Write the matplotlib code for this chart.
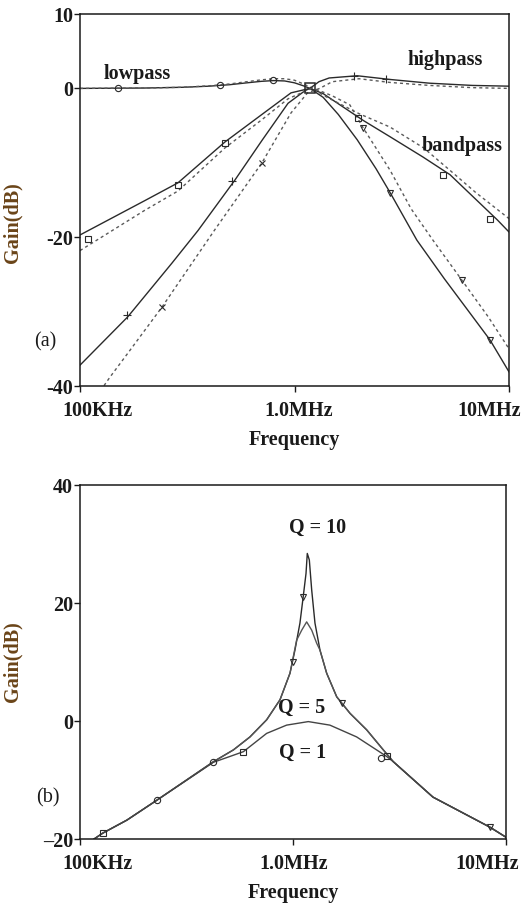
import numpy as np
import matplotlib
matplotlib.use('Agg')
import matplotlib.pyplot as plt
from matplotlib import rcParams
from matplotlib.ticker import NullLocator
from matplotlib.transforms import ScaledTranslation

rcParams['font.family'] = ['Liberation Serif', 'DejaVu Serif']
rcParams['font.weight'] = 'bold'
rcParams['axes.labelweight'] = 'bold'
rcParams['font.size'] = 14.5

#%% data, frequencies in MHz, gain in dB
# (a) lowpass / highpass / bandpass, solid = simulated, dashed = measured
lp_sim_f = [0.1, 0.2, 0.3, 0.4, 0.5, 0.6, 0.7, 0.8, 0.9, 1.0, 1.1, 1.18, 1.36, 1.6, 1.96, 2.4, 2.79, 3.72, 5.0, 6.5, 8.15, 10]
lp_sim_db = [0, 0.05, 0.15, 0.3, 0.5, 0.75, 0.95, 1.05, 1.0, 0.75, 0.35, 0, -1.2, -3.5, -6.9, -10.8, -14.0, -20.4, -25.6, -30.0, -33.8, -38.1]
lp_meas_f = [0.1, 0.2, 0.3, 0.4, 0.5, 0.6, 0.7, 0.8, 0.9, 1.0, 1.1, 1.2, 1.36, 1.5, 1.81, 2.09, 2.79, 3.5, 4.42, 6.04, 8.0, 10]
lp_meas_db = [0, 0.05, 0.15, 0.35, 0.6, 0.9, 1.15, 1.3, 1.3, 1.1, 0.6, 0.1, -0.5, -1.0, -2.2, -5.3, -11.0, -16.2, -20.4, -25.8, -30.7, -35.0]

hp_sim_f = [0.1, 0.167, 0.268, 0.355, 0.528, 0.705, 0.933, 1.12, 1.18, 1.3, 1.45, 1.96, 2.79, 4.26, 6.75, 10]
hp_sim_db = [-37.2, -30.7, -23.5, -19.1, -12.3, -7.0, -2.0, -0.3, 0, 0.9, 1.4, 1.7, 1.2, 0.7, 0.4, 0.3]
hp_meas_f = [0.12, 0.138, 0.167, 0.241, 0.425, 0.705, 0.963, 1.15, 1.31, 1.5, 2.0, 2.79, 4.26, 6.75, 10]
hp_meas_db = [-41.3, -38.8, -35.6, -29.4, -19.0, -10.0, -3.3, -0.6, 0, 0.9, 1.3, 0.8, 0.4, 0.1, 0]

bp_sim_f = [0.1, 0.2, 0.286, 0.474, 0.705, 0.963, 1.18, 1.36, 2.09, 2.79, 3.96, 5.31, 8.84, 10]
bp_sim_db = [-19.7, -15.1, -12.7, -7.2, -3.5, -0.6, 0, -0.7, -4.3, -6.5, -9.2, -11.6, -17.7, -19.3]
bp_meas_f = [0.1, 0.2, 0.286, 0.474, 0.705, 0.933, 1.2, 1.42, 2.0, 2.79, 4.0, 5.3, 7.0, 10]
bp_meas_db = [-21.8, -16.4, -13.8, -8.0, -4.2, -1.4, 0, -1.2, -3.4, -5.2, -8.0, -11.0, -14.0, -17.5]

# marker positions (a)
lp_mk_f = [0.15, 0.45, 0.79, 2.09, 2.79, 6.04, 8.15]
lp_mk_db = [0, 0.5, 1.1, -5.3, -14.0, -25.8, -33.8]
hp_mk_f = [0.166, 0.512, 1.9, 2.66]
hp_mk_db = [-30.5, -12.5, 1.6, 1.2]
hpx_mk_f = [0.241, 0.705]
hpx_mk_db = [-29.4, -10.0]
bp_mk_f = [0.109, 0.286, 0.474, 1.98, 4.92, 8.15]
bp_mk_db = [-20.2, -13.0, -7.4, -4.0, -11.6, -17.5]
f0_mk = 1.18

# (b) bandpass gain for different Q
q10_f = [0.1, 0.128, 0.166, 0.23, 0.423, 0.525, 0.628, 0.752, 0.869, 0.968, 1.021, 1.078, 1.117, 1.151, 1.167,
         1.193, 1.224, 1.268, 1.339, 1.439, 1.604, 1.852, 2.218, 2.655, 2.958, 4.54, 8.41, 10]
q10_db = [-21.6, -19.0, -16.8, -13.4, -6.9, -4.9, -2.7, 0.2, 3.6, 8.1, 12.0, 16.6, 21.1, 25.0, 28.4,
          27.3, 22.2, 16.6, 12.0, 8.1, 4.1, 1.3, -1.5, -4.9, -6.9, -12.9, -18.0, -19.7]
q5_f = [0.1, 0.128, 0.166, 0.23, 0.423, 0.525, 0.628, 0.752, 0.869, 0.968, 1.04, 1.099, 1.159,
        1.224, 1.291, 1.339, 1.439, 1.604, 1.852, 2.218, 2.655, 2.958, 4.54, 8.41, 10]
q5_db = [-21.6, -19.0, -16.8, -13.4, -6.9, -4.9, -2.7, 0.2, 3.6, 8.1, 13.7, 15.4, 16.8,
         15.4, 13.2, 12.0, 8.1, 4.1, 1.3, -1.5, -4.9, -6.9, -12.9, -18.0, -19.7]
q1_f = [0.1, 0.128, 0.166, 0.23, 0.423, 0.585, 0.752, 0.933, 1.18, 1.49, 1.99, 2.75, 2.958, 4.54, 8.41, 10]
q1_db = [-21.6, -19.0, -16.8, -13.4, -7.0, -5.2, -2.1, -0.7, -0.1, -0.7, -2.7, -6.0, -6.9, -12.9, -18.0, -19.7]

q10_mk_f = [1.0, 1.117, 1.69, 8.41]
q10_mk_db = [10.0, 21.1, 3.0, -18.0]
q5_mk_f = [0.23, 0.421, 2.6]
q5_mk_db = [-13.4, -7.0, -6.3]
q1_mk_f = [0.128, 0.585, 2.75]
q1_mk_db = [-19.0, -5.2, -6.0]

xticks = [0.1, 1.0, 10]
xticklabels = ['100KHz', '1.0MHz', '10MHz']

#%%
sim_kw = dict(color='#2a2a2a', lw=1.0)
meas_kw = dict(color='#5a5a5a', lw=1.0, ls=(0, (2.2, 2.2)))
mk_kw = dict(ls='none', mfc='none', mec='#2a2a2a', mew=0.8, ms=4.5)
txt_col = '#1a1a1a'
lab_col = '#6a4418'

fig = plt.figure(figsize=(5.29, 9.05), dpi=100)
ax1 = fig.add_axes([80/529, 1-386/905, 429/529, 372/905])
ax2 = fig.add_axes([80/529, 1-839/905, 426/529, 354/905])

def style_axes(ax, yticks, yticklabels, shifts):
      ax.set_xscale('log')
      ax.set_xlim(0.1, 10)
      ax.set_xticks(xticks)
      ax.set_xticklabels(xticklabels)
      ax.xaxis.set_minor_locator(NullLocator())
      ax.set_yticks(yticks)
      ax.set_yticklabels(yticklabels)
      ax.tick_params(direction='out', length=4, width=1.0, colors=txt_col, labelsize=14.5)
      ax.tick_params(axis='x', pad=7)
      ax.tick_params(axis='y', pad=1)
      for s in ax.spines.values():
            s.set_linewidth(1.1)
            s.set_color('#1a1a1a')
      for lab, dx in zip(ax.get_xticklabels(), shifts):
            lab.set_transform(lab.get_transform() + ScaledTranslation(dx/100, 0, fig.dpi_scale_trans))
      ax.set_xlabel('Frequency', color=txt_col, fontsize=14.5, fontweight='bold', labelpad=6)
      ax.set_ylabel('Gain(dB)', color=lab_col, fontsize=14.5, fontweight='bold')

#%% (a)
ax1.plot(lp_sim_f, lp_sim_db, **sim_kw)
ax1.plot(lp_meas_f, lp_meas_db, **meas_kw)
ax1.plot(hp_sim_f, hp_sim_db, **sim_kw)
ax1.plot(hp_meas_f, hp_meas_db, **meas_kw)
ax1.plot(bp_sim_f, bp_sim_db, **sim_kw)
ax1.plot(bp_meas_f, bp_meas_db, **meas_kw)
ax1.plot(lp_mk_f[:3], lp_mk_db[:3], marker='o', **mk_kw)
ax1.plot(lp_mk_f[3:], lp_mk_db[3:], marker='v', **mk_kw)
ax1.plot(hp_mk_f, hp_mk_db, marker='+', **dict(mk_kw, ms=6))
ax1.plot(hpx_mk_f, hpx_mk_db, marker='x', **dict(mk_kw, ms=4))
ax1.plot(bp_mk_f, bp_mk_db, marker='s', **mk_kw)
ax1.plot([f0_mk], [0], marker='s', **dict(mk_kw, ms=6.5, mew=1.1))
ax1.set_ylim(-40, 10)
style_axes(ax1, [10, 0, -20, -40], ['10', '0', '-20', '-40'], [18, 4, -20])
ax1.yaxis.set_label_coords(-0.133, 0.44)
ax1.text(0.133, 0.84, 'lowpass', color=txt_col, transform=ax1.transAxes, ha='center', va='center')
ax1.text(0.85, 0.875, 'highpass', color=txt_col, transform=ax1.transAxes, ha='center', va='center')
ax1.text(0.89, 0.645, 'bandpass', color=txt_col, transform=ax1.transAxes, ha='center', va='center')
ax1.text(-0.082, 0.118, '(a)', fontweight='normal', color=txt_col,
         transform=ax1.transAxes, ha='center', va='center')

#%% (b)
ax2.plot(q10_f, q10_db, **sim_kw)
ax2.plot(q5_f, q5_db, color='#555555', lw=1.0)
ax2.plot(q1_f, q1_db, color='#444444', lw=1.0)
ax2.plot(q10_mk_f, q10_mk_db, marker='v', **mk_kw)
ax2.plot(q5_mk_f, q5_mk_db, marker='o', **mk_kw)
ax2.plot(q1_mk_f, q1_mk_db, marker='s', **mk_kw)
ax2.set_ylim(-20, 40)
style_axes(ax2, [40, 20, 0, -20], ['40', '20', '0', '\u201320'], [17, 1, -19])
ax2.yaxis.set_label_coords(-0.134, 0.5)
ax2.text(1.31, 32.7, 'Q = 10', color=txt_col, ha='center', va='center')
ax2.text(1.10, 2.2, 'Q = 5', color=txt_col, ha='center', va='center')
ax2.text(1.11, -5.4, 'Q = 1', color=txt_col, ha='center', va='center')
ax2.text(-0.075, 0.116, '(b)', fontweight='normal', color=txt_col,
         transform=ax2.transAxes, ha='center', va='center')

plt.savefig('out.png', dpi=100)
